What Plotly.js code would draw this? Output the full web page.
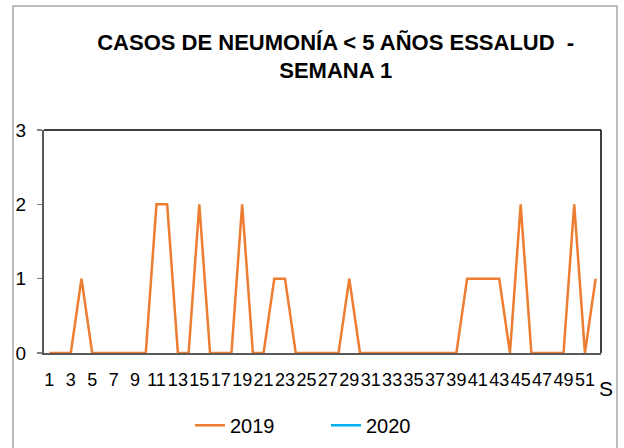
<!DOCTYPE html>
<html>
<head>
<meta charset="utf-8">
<script src="https://cdn.plot.ly/plotly-3.0.1.min.js"></script>
<style>
html,body{margin:0;padding:0;background:#fff;}
#chart{width:624px;height:448px;}
</style>
</head>
<body>
<div id="chart"></div>
<script>
// Weeks (semanas) 1..52
var weeks = [];
for (var w = 1; w <= 52; w++) weeks.push(w);

// Cases 2019 by week
var cases2019 = [0,0,0,1,0,0,0,0,0,0,
                 2,2,0,0,2,0,0,0,2,0,
                 0,1,1,0,0,0,0,0,1,0,
                 0,0,0,0,0,0,0,0,0,1,
                 1,1,1,0,2,0,0,0,0,2,
                 0,1];

// Cases 2020 (only week 1 reported; no line visible in the reference)
var weeks2020 = [1];
var cases2020 = [null];

// Tick labels on the x axis (odd weeks)
var xTickVals = [];
for (var t = 1; t <= 51; t += 2) xTickVals.push(t);
var xTickText = xTickVals.map(String);

var yTickVals = [0, 1, 2, 3];

var titleText = 'CASOS DE NEUMONÍA < 5 AÑOS ESSALUD  -<br>SEMANA 1';
var xTitle = 'S';

var font = 'Liberation Sans, Arial, sans-serif';

var traces = [
  {x: weeks, y: cases2019, name: '2019', type: 'scatter', mode: 'lines',
   line: {color: '#ED7D31', width: 2.5}},
  {x: weeks2020, y: cases2020, name: '2020', type: 'scatter', mode: 'lines',
   line: {color: '#00B0F0', width: 2.5}}
];

var layout = {
  width: 624, height: 448,
  margin: {l: 44, r: 23, t: 130, b: 95},
  paper_bgcolor: '#ffffff', plot_bgcolor: '#ffffff',
  font: {family: font, color: '#000000', size: 18},
  title: {text: titleText, font: {family: font, size: 22, color: '#000000', weight: 'bold'},
          xref: 'container', x: 0.538, xanchor: 'center',
          yref: 'container', y: 0.889, yanchor: 'top'},
  xaxis: {range: [0.5, 52.5], tickvals: xTickVals, ticktext: xTickText, tickangle: 0,
          showgrid: false, zeroline: false, showline: true, linecolor: '#595959', linewidth: 2,
          ticks: '', ticklabelstandoff: 9, tickfont: {size: 18, color: '#000'}, fixedrange: true},
  yaxis: {range: [0, 3], tickvals: yTickVals, showgrid: false, zeroline: false,
          showline: true, linecolor: '#595959', linewidth: 2,
          ticks: 'outside', ticklen: 5, tickcolor: '#7f7f7f', tickwidth: 1.5,
          ticklabelstandoff: 7, tickfont: {size: 19, color: '#000'}, fixedrange: true},
  showlegend: true,
  legend: {orientation: 'h', xref: 'container', yref: 'container', x: 190 / 624, xanchor: 'left',
           y: 0.051, yanchor: 'middle', font: {size: 20, color: '#000'},
           entrywidth: 91, entrywidthmode: 'pixels',
           bgcolor: 'rgba(0,0,0,0)'},
  shapes: [
    // top and right borders of plot area
    {type: 'line', xref: 'paper', yref: 'paper', x0: 0, x1: 1, y0: 1, y1: 1,
     line: {color: '#000000', width: 1.5}},
    {type: 'line', xref: 'paper', yref: 'paper', x0: 1, x1: 1, y0: 0, y1: 1,
     line: {color: '#000000', width: 1.5}},
    // outer chart frame
    {type: 'rect', xref: 'paper', yref: 'paper', x0: -0.0557, x1: 1.0287, y0: -0.5, y1: 1.556,
     line: {color: '#a6a6a6', width: 1.5}, layer: 'below'}
  ],
  annotations: [
    {text: xTitle, xref: 'paper', yref: 'paper', x: 1.009, y: -0.157, xanchor: 'center', yanchor: 'middle',
     showarrow: false, font: {size: 21, color: '#000'}}
  ]
};

Plotly.newPlot('chart', traces, layout, {displayModeBar: false, staticPlot: true});
</script>
</body>
</html>
